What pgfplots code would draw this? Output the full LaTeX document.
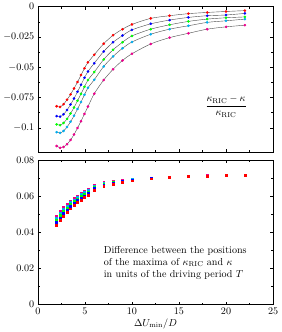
\documentclass[border=0pt]{standalone}
\usepackage{pgfplots}
\pgfplotsset{compat=1.18}
\pgfplotstableread{
x red blue green cyan magenta
2.00 -0.0822 -0.0903 -0.0972 -0.1036 -0.1150
2.37 -0.0828 -0.0908 -0.0978 -0.1042 -0.1165
2.74 -0.0805 -0.0888 -0.0960 -0.1026 -0.1158
3.11 -0.0768 -0.0853 -0.0926 -0.0993 -0.1135
3.48 -0.0724 -0.0808 -0.0882 -0.0950 -0.1100
3.85 -0.0675 -0.0758 -0.0832 -0.0900 -0.1055
4.22 -0.0622 -0.0703 -0.0777 -0.0845 -0.1002
4.59 -0.0565 -0.0645 -0.0720 -0.0787 -0.0945
4.96 -0.0508 -0.0587 -0.0662 -0.0728 -0.0885
5.33 -0.0460 -0.0535 -0.0606 -0.0670 -0.0825
6 -0.0397 -0.0467 -0.0540 -0.0603 -0.0718
7 -0.0306 -0.0370 -0.0436 -0.0494 -0.0606
8 -0.0236 -0.0294 -0.0356 -0.0411 -0.0517
9 -0.0186 -0.0239 -0.0294 -0.0344 -0.0444
10 -0.0147 -0.0192 -0.0242 -0.0292 -0.0389
12 -0.0097 -0.0142 -0.0186 -0.0228 -0.0308
14 -0.0075 -0.0111 -0.0150 -0.0186 -0.0256
16 -0.0058 -0.0089 -0.0122 -0.0158 -0.0220
18 -0.0048 -0.0075 -0.0103 -0.0130 -0.0186
20 -0.0040 -0.0069 -0.0092 -0.0117 -0.0167
22 -0.0033 -0.0056 -0.0085 -0.0103 -0.0153
}\toptable
\pgfplotstableread{
x red blue green cyan magenta
2.00 0.0440 0.0455 0.0468 0.0480 0.0490
2.37 0.0467 0.0481 0.0493 0.0505 0.0515
2.74 0.0491 0.0505 0.0516 0.0528 0.0537
3.11 0.0512 0.0525 0.0536 0.0547 0.0556
3.48 0.0531 0.0544 0.0554 0.0565 0.0573
3.85 0.0549 0.0561 0.0571 0.0581 0.0589
4.22 0.0565 0.0576 0.0586 0.0595 0.0603
4.59 0.0580 0.0591 0.0600 0.0609 0.0616
4.96 0.0593 0.0603 0.0612 0.0620 0.0627
5.33 0.0605 0.0615 0.0623 0.0631 0.0637
6 0.0636 0.0644 0.0650 0.0656 0.0661
7 0.0658 0.0663 0.0668 0.0672 0.0676
8 0.0669 0.0673 0.0676 0.0679 0.0682
9 0.0678 0.0681 0.0684 0.0686 0.0688
10 0.0686 0.0688 0.0690 0.0692 0.0694
12 0.0697 0.0699 0.0700 0.0701 0.0702
14 0.0704 0.0705 0.0706 0.0707 0.0708
16 0.0709 0.0710 0.0711 0.0711 0.0712
18 0.0712 0.0713 0.0714 0.0714 0.0715
20 0.0715 0.0716 0.0716 0.0717 0.0717
22 0.0717 0.0718 0.0718 0.0719 0.0719
}\bottable
\begin{document}
\begin{tikzpicture}
\pgfplotsset{
  every axis/.append style={scale only axis, width=233pt, xmin=0, xmax=25,
    xtick={0,5,10,15,20,25}, minor x tick num=1, minor y tick num=1,
    tick style={black, thin}, axis line style={thin},
    major tick length=3pt, minor tick length=2pt,
    scaled y ticks=false,
    yticklabel style={/pgf/number format/fixed, /pgf/number format/precision=3}},
  curve/.style={gray!60!black, line width=0.4pt, smooth, mark=*, mark size=1.1pt,
    mark options={draw=#1, fill=#1, solid}},
  pts/.style={only marks, mark=square*, mark size=0.95pt, mark options={draw=#1, fill=#1}},
}
\begin{axis}[name=top, height=144pt, ymin=-0.12, ymax=0,
  ytick={0,-0.025,-0.05,-0.075,-0.1}, xticklabels={}]
\addplot[curve=red] table[x=x, y=red] {\toptable};
\addplot[curve=blue] table[x=x, y=blue] {\toptable};
\addplot[curve=green] table[x=x, y=green] {\toptable};
\addplot[curve=cyan] table[x=x, y=cyan] {\toptable};
\addplot[curve=magenta] table[x=x, y=magenta] {\toptable};
\node at (axis cs:20,-0.0825) {$\displaystyle\frac{\kappa_{\mathrm{RIC}}-\kappa}{\kappa_{\mathrm{RIC}}}$};
\end{axis}
\begin{axis}[at={(top.south west)}, anchor=north west, yshift=-8pt,
  height=143pt, ymin=0, ymax=0.08,
  ytick={0,0.02,0.04,0.06,0.08},
  xlabel={$\Delta U_{\min}/D$}, xlabel style={yshift=3pt}]
\addplot[pts=magenta] table[x=x, y=magenta] {\bottable};
\addplot[pts=cyan] table[x=x, y=cyan] {\bottable};
\addplot[pts=green] table[x=x, y=green] {\bottable};
\addplot[pts=blue] table[x=x, y=blue] {\bottable};
\addplot[pts=red] table[x=x, y=red] {\bottable};
\node[anchor=north west, align=left, inner sep=0pt, font=\normalsize] at (axis cs:7.0,0.0325)
  {Difference between the positions\\ of the maxima of $\kappa_{\mathrm{RIC}}$ and $\kappa$\\ in units of the driving period $T$};
\end{axis}
\end{tikzpicture}
\end{document}
